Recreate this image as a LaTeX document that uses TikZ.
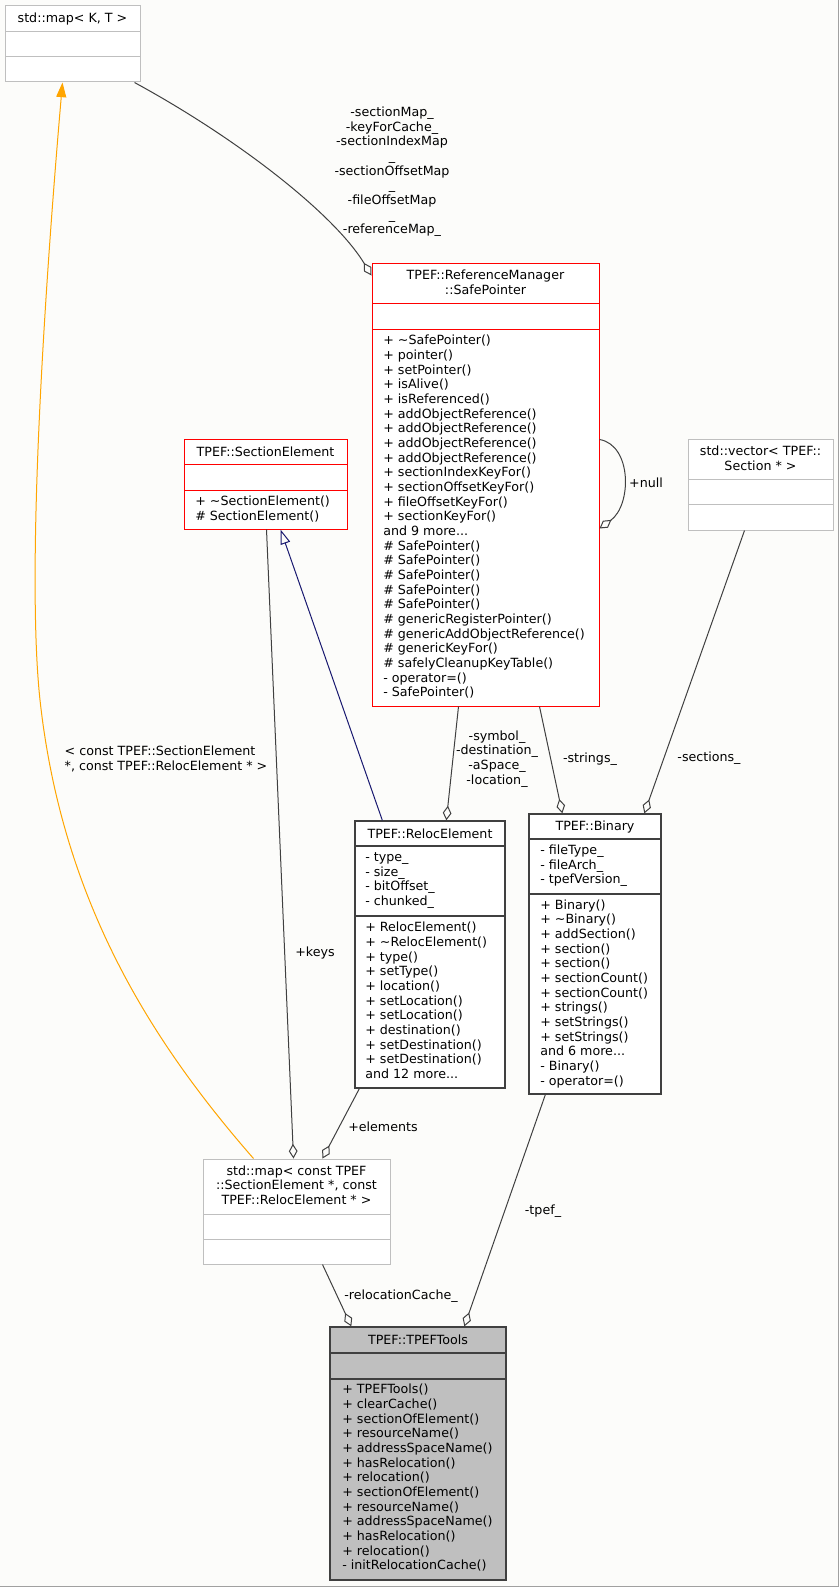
\documentclass[tikz,border=0pt]{standalone}
\usepackage{fontspec}
\setmainfont{DejaVu Sans}
\usetikzlibrary{arrows.meta,fit,calc}

\definecolor{paper}{RGB}{252,252,250}
\definecolor{edgegray}{RGB}{64,64,64}
\definecolor{boxgray}{RGB}{191,191,191}
\definecolor{framegray}{RGB}{160,160,160}
\definecolor{inherit}{RGB}{25,25,112}
\definecolor{tmplorange}{RGB}{255,165,0}

\tikzset{
	umlclass/.style={draw=#1, fill=white, inner sep=0pt, line width=0.75pt},
	grayclass/.style={umlclass=boxgray},
	redclass/.style={umlclass=red},
	plainclass/.style={umlclass=edgegray, line width=1pt},
	focusclass/.style={plainclass, fill=boxgray},
	title/.style={inner sep=0pt, align=center},
	members/.style={inner sep=0pt, align=left, anchor=west},
	edgelabel/.style={inner sep=0pt, align=center},
	assoc/.style={draw=edgegray, line width=0.75pt, -{Diamond[open, length=11pt, width=6.5pt]}},
	realize/.style={draw=tmplorange, line width=0.75pt, -{Triangle[length=11pt, width=7.5pt]}},
	extends/.style={draw=inherit, line width=0.75pt, -{Triangle[open, length=11pt, width=7.5pt]}},
}

% box with two rules: name, style, x1, y1, x2, y2, rule1, rule2
\newcommand{\umlbox}[8]{%
	\node[#2, fit={(#3,#4) (#5,#6)}] (#1) {};
	\draw[#2, fill=none] (#3,#7) -- (#5,#7) (#3,#8) -- (#5,#8);
}

\begin{document}
\begin{tikzpicture}[x=0.75pt, y=-0.75pt, font=\fontsize{9.5}{11}\selectfont]

	\useasboundingbox (0,0) rectangle (839,1587);
	\fill[paper] (0,0) rectangle (839,1587);
	\draw[framegray, line width=1pt] (0,1586.5) -- (838.5,1586.5) -- (838.5,0);

	% classes
	\umlbox{mapKT}{grayclass}{5}{6}{140}{82}{32}{57}
	\node[title] (mapKTname) at (72.5,19) {std::map< K, T >};

	\umlbox{safePtr}{redclass}{372}{263}{599}{706}{303}{329}
	\node[title] (safePtrname) at (485.5,282) {TPEF::ReferenceManager\\::SafePointer};
	\node[members] (safePtrops) at (383,517) {%
		+ \textasciitilde SafePointer()\\
		+ pointer()\\
		+ setPointer()\\
		+ isAlive()\\
		+ isReferenced()\\
		+ addObjectReference()\\
		+ addObjectReference()\\
		+ addObjectReference()\\
		+ addObjectReference()\\
		+ sectionIndexKeyFor()\\
		+ sectionOffsetKeyFor()\\
		+ fileOffsetKeyFor()\\
		+ sectionKeyFor()\\
		and 9 more...\\
		\# SafePointer()\\
		\# SafePointer()\\
		\# SafePointer()\\
		\# SafePointer()\\
		\# SafePointer()\\
		\# genericRegisterPointer()\\
		\# genericAddObjectReference()\\
		\# genericKeyFor()\\
		\# safelyCleanupKeyTable()\\
		- operator=()\\
		- SafePointer()};

	\umlbox{secElem}{redclass}{184}{439}{347}{529}{464}{490}
	\node[title] (secElemname) at (265.5,451.5) {TPEF::SectionElement};
	\node[members] (secElemops) at (195,509) {+ \textasciitilde SectionElement()\\\# SectionElement()};

	\umlbox{vecSec}{grayclass}{688}{439}{833}{530}{479}{504}
	\node[title] (vecSecname) at (760.5,458) {std::vector< TPEF::\\Section * >};

	\umlbox{relocElem}{plainclass}{355}{821}{505}{1088}{846}{916}
	\node[title] (relocElemname) at (430,833.5) {TPEF::RelocElement};
	\node[members] (relocElemattr) at (365,880.5) {- type\_\\- size\_\\- bitOffset\_\\- chunked\_};
	\node[members] (relocElemops) at (365,1000.5) {%
		+ RelocElement()\\
		+ \textasciitilde RelocElement()\\
		+ type()\\
		+ setType()\\
		+ location()\\
		+ setLocation()\\
		+ setLocation()\\
		+ destination()\\
		+ setDestination()\\
		+ setDestination()\\
		and 12 more...};

	\umlbox{binary}{plainclass}{529}{814}{661}{1094}{839}{894}
	\node[title] (binaryname) at (595,826.5) {TPEF::Binary};
	\node[members] (binaryattr) at (540,865.7) {- fileType\_\\- fileArch\_\\- tpefVersion\_};
	\node[members] (binaryops) at (540,993.7) {%
		+ Binary()\\
		+ \textasciitilde Binary()\\
		+ addSection()\\
		+ section()\\
		+ section()\\
		+ sectionCount()\\
		+ sectionCount()\\
		+ strings()\\
		+ setStrings()\\
		+ setStrings()\\
		and 6 more...\\
		- Binary()\\
		- operator=()};

	\umlbox{mapCache}{grayclass}{203}{1159}{390}{1264}{1214}{1239}
	\node[title] (mapCachename) at (296.5,1185) {std::map< const TPEF\\::SectionElement *, const\\TPEF::RelocElement * >};

	\umlbox{tools}{focusclass}{330}{1327}{506}{1580}{1353}{1379}
	\node[title] (toolsname) at (418,1340) {TPEF::TPEFTools};
	\node[members] (toolsops) at (342,1478) {%
		+ TPEFTools()\\
		+ clearCache()\\
		+ sectionOfElement()\\
		+ resourceName()\\
		+ addressSpaceName()\\
		+ hasRelocation()\\
		+ relocation()\\
		+ sectionOfElement()\\
		+ resourceName()\\
		+ addressSpaceName()\\
		+ hasRelocation()\\
		+ relocation()\\
		- initRelocationCache()};

	% connectors
	\draw[assoc] ($(mapKT.south west)+(130,0)$) .. controls (240,140) and (335,215) .. ($(safePtr.north west)+(0,13)$);
	\node[edgelabel] (lblMaps) at (392,172) {-sectionMap\_\\-keyForCache\_\\-sectionIndexMap\\\_\\-sectionOffsetMap\\\_\\-fileOffsetMap\\\_\\-referenceMap\_};

	\draw[realize] ($(mapCache.north west)+(51,0)$) .. controls (150,1040) and (62,900) .. (40,700)
		.. controls (25,560) and (48,250) .. ($(mapKT.south west)+(58,0)$);
	\node[members, anchor=center] (lblTemplate) at (166,759) {< const TPEF::SectionElement\\*, const TPEF::RelocElement * >};

	\draw[assoc] ($(safePtr.north east)+(0,177)$) .. controls (632,445) and (632,505) .. ($(safePtr.north east)+(0,266)$);
	\node[edgelabel] (lblNull) at (646,483) {+null};

	\draw[extends] ($(relocElem.north west)+(28,0)$) -- ($(secElem.south west)+(97,0)$);

	\draw[assoc] ($(secElem.south west)+(83,0)$) -- ($(mapCache.north west)+(91,0)$);
	\node[edgelabel] (lblKeys) at (315,953) {+keys};

	\draw[assoc] ($(relocElem.south west)+(5,0)$) -- ($(mapCache.north west)+(120,0)$);
	\node[edgelabel] (lblElements) at (383,1127) {+elements};

	\draw[assoc] ($(safePtr.south west)+(87,0)$) -- ($(relocElem.north west)+(92,0)$);
	\node[edgelabel] (lblReloc) at (497,758.7) {-symbol\_\\-destination\_\\-aSpace\_\\-location\_};

	\draw[assoc] ($(safePtr.south west)+(168,0)$) -- ($(binary.north west)+(34,0)$);
	\node[edgelabel] (lblStrings) at (590,759) {-strings\_};

	\draw[assoc] ($(vecSec.south west)+(57,0)$) -- ($(binary.north west)+(116,0)$);
	\node[edgelabel] (lblSections) at (709,758) {-sections\_};

	\draw[assoc] ($(mapCache.south west)+(120,0)$) -- ($(tools.north west)+(22,0)$);
	\node[edgelabel] (lblCache) at (401,1296) {-relocationCache\_};

	\draw[assoc] ($(binary.south west)+(17,0)$) -- ($(tools.north west)+(135,0)$);
	\node[edgelabel] (lblTpef) at (543,1211) {-tpef\_};

\end{tikzpicture}
\end{document}
